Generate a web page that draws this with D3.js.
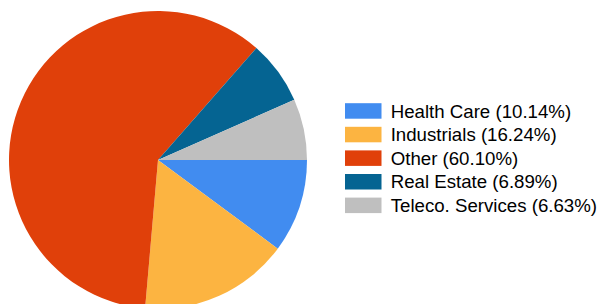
<!DOCTYPE html>
<html>
<head>
<meta charset="utf-8">
<script src="https://cdn.jsdelivr.net/npm/d3@7"></script>
<style>
  body { margin: 0; background: #fff; }
  text { font-family: "Liberation Sans", Arial, sans-serif; }
</style>
</head>
<body>
<script>
const categories = ["Health Care", "Industrials", "Other", "Real Estate", "Teleco. Services"]
const values = [10.14, 16.24, 60.10, 6.89, 6.63]
const colors = ["#418CF0", "#FCB441", "#E0400A", "#056492", "#BFBFBF"]

const width = 600
const height = 304

const data = categories.map((name, i) => ({name, value: values[i], color: colors[i]}))

const svg = d3.select("body").append("svg")
  .attr("width", width)
  .attr("height", height)

// slices start at 3 o'clock and go clockwise
const pie = d3.pie()
  .sort(null)
  .value(d => d.value)
  .startAngle(Math.PI / 2)
  .endAngle(Math.PI / 2 + 2 * Math.PI)

const arc = d3.arc().innerRadius(0).outerRadius(149)

svg.append("g")
  .attr("transform", "translate(158,160)")
  .selectAll("path")
  .data(pie(data))
  .join("path")
  .attr("d", arc)
  .attr("fill", d => d.data.color)

const legendY = d3.scalePoint()
  .domain(categories)
  .range([111, 205.4])

const legend = svg.append("g")
  .selectAll("g")
  .data(data)
  .join("g")
  .attr("transform", d => `translate(345,${legendY(d.name)})`)

legend.append("rect")
  .attr("x", 0)
  .attr("y", -7.8)
  .attr("width", 36.5)
  .attr("height", 15.5)
  .attr("fill", d => d.color)

legend.append("text")
  .attr("x", 45.7)
  .attr("y", 6.5)
  .attr("font-size", 18.67)
  .attr("fill", "#000")
  .text(d => `${d.name} (${d.value.toFixed(2)}%)`)
</script>
</body>
</html>
